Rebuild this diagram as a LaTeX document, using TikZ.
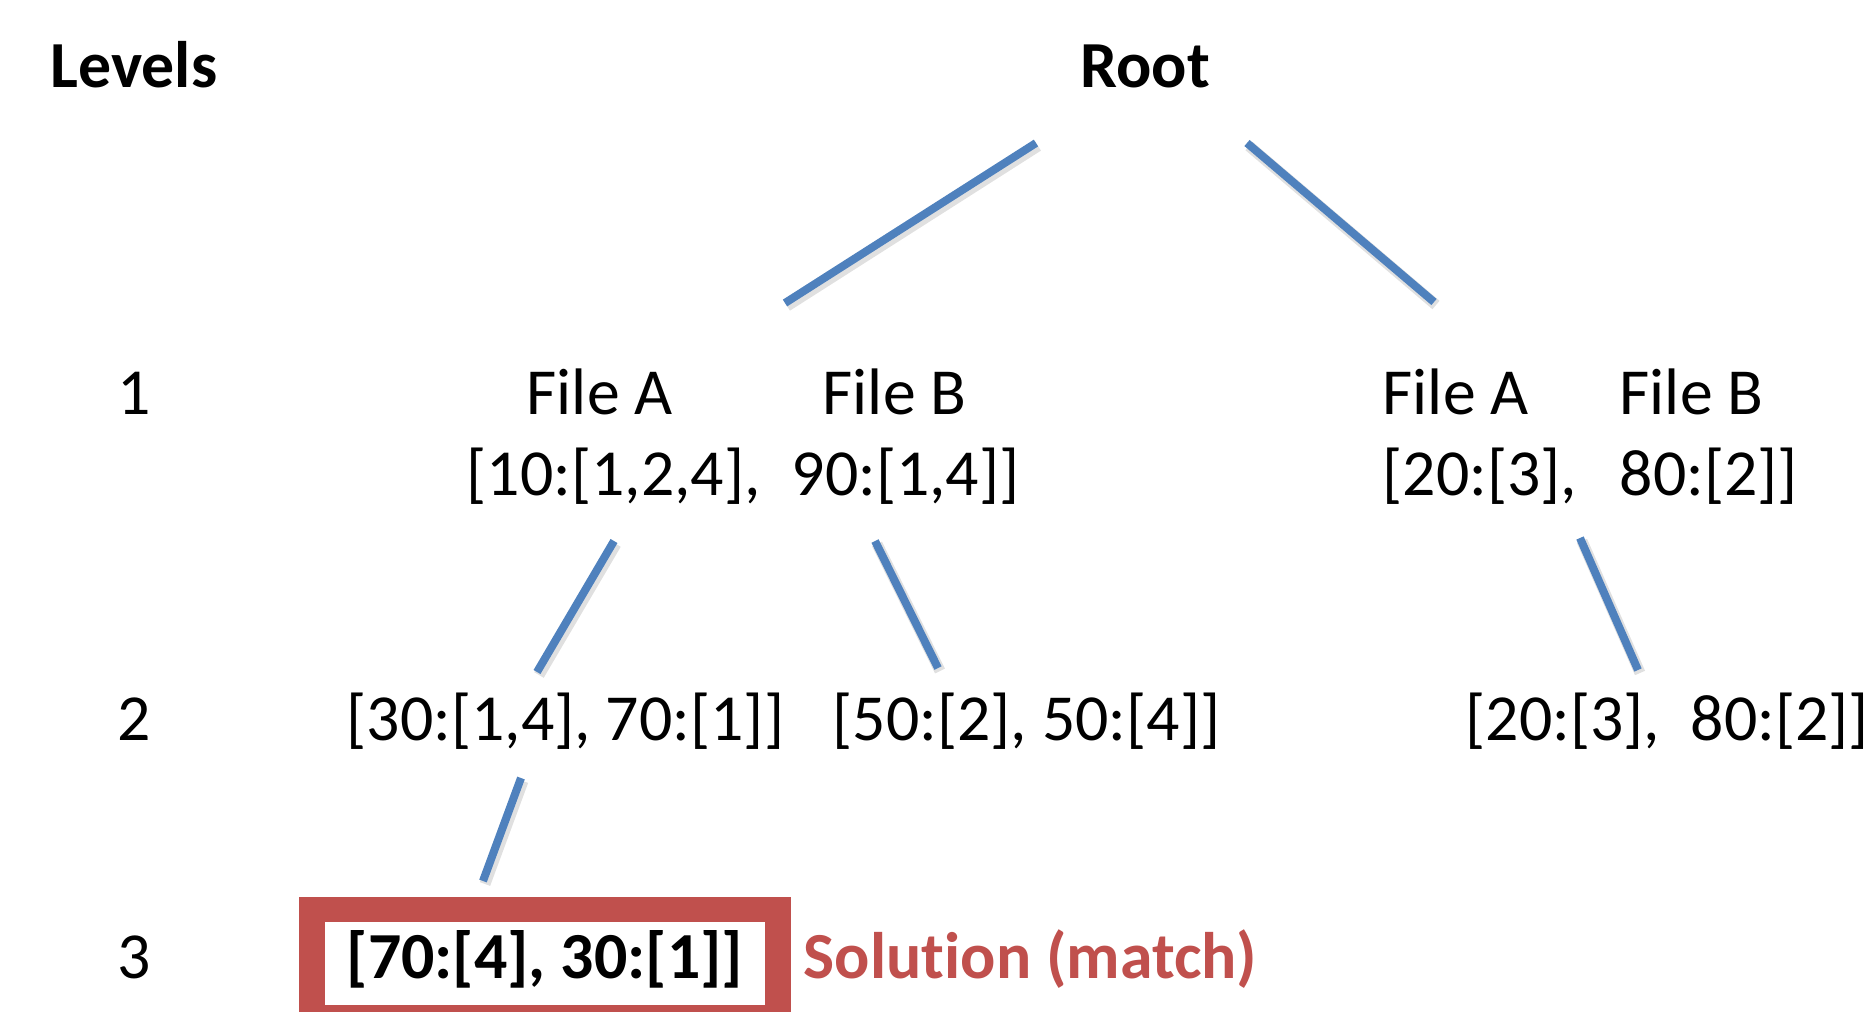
\documentclass[tikz,border=0pt]{standalone}
\usepackage{fontspec}
\setmainfont{Carlito}[Ligatures=NoCommon]
\definecolor{linkblue}{HTML}{4F81BD}
\definecolor{matchred}{HTML}{C0504D}
\begin{document}
\begin{tikzpicture}[x=0.01cm,y=-0.01cm,
  lbl/.style={inner sep=0pt,anchor=base west,font=\fontsize{18.7}{22}\selectfont},
  hd/.style={lbl,font=\fontsize{18.7}{22}\selectfont\bfseries},
  edge/.style={draw=linkblue,line width=0.08cm},
  edgeshadow/.style={draw=black,opacity=0.12,line width=0.11cm}]
\useasboundingbox (0,0) rectangle (1871,1011);
\clip (0,0) rectangle (1871,1011);

% level captions
\node[hd]  (levels) at (50,87)  {Levels};
\node[lbl] (lvone)  at (117,414) {1};
\node[lbl] (lvtwo)  at (117,740) {2};
\node[lbl] (lvthree) at (117,978) {3};

% root
\node[hd] (root) at (1080,87) {Root};

% level 1, left branch
\node[lbl] (la1) at (526,414) {File A};
\node[lbl] (lb1) at (822,414) {File B};
\node[lbl] (la1v) at (466,495) {[10:[1,2,4],};
\node[lbl] (lb1v) at (791,495) {90:[1,4]]};

% level 1, right branch
\node[lbl] (ra1) at (1382,414) {File A};
\node[lbl] (rb1) at (1619,414) {File B};
\node[lbl] (ra1v) at (1382,495) {[20:[3],};
\node[lbl] (rb1v) at (1619,495) {80:[2]]};

% level 2
\node[lbl] (la2) at (346,740) {[30:[1,4], 70:[1]]};
\node[lbl] (lb2) at (832,740) {[50:[2], 50:[4]]};
\node[lbl] (ra2) at (1465,740) {[20:[3],};
\node[lbl] (rb2) at (1690,740) {80:[2]]};

% level 3: matching result
\draw[matchred,line width=0.25cm] (312,909) rectangle (778,1017);
\node[hd] (sol) at (346,978) {[70:[4], 30:[1]]};
\node[hd,text=matchred] (solnote) at (803,978) {Solution (match)};

% connector end points
\coordinate (rootL)  at (1036,143);
\coordinate (rootR)  at (1247,143);
\coordinate (grpLt)  at (785,303);
\coordinate (grpRt)  at (1434,302);
\coordinate (grpLa)  at (614,541);
\coordinate (grpLb)  at (875,541);
\coordinate (grpRb)  at (1580,538);
\coordinate (twoLt)  at (537,672);
\coordinate (twoMt)  at (938,668);
\coordinate (twoRt)  at (1638,670);
\coordinate (twoLb)  at (521,778);
\coordinate (threeT) at (483,881);

\foreach \a/\b in {rootL/grpLt, rootR/grpRt, grpLa/twoLt, grpLb/twoMt,
                   grpRb/twoRt, twoLb/threeT}{
  \draw[edgeshadow] ([shift={(2,3)}]\a) -- ([shift={(2,3)}]\b);
  \draw[edge] (\a) -- (\b);
}
\end{tikzpicture}
\end{document}
